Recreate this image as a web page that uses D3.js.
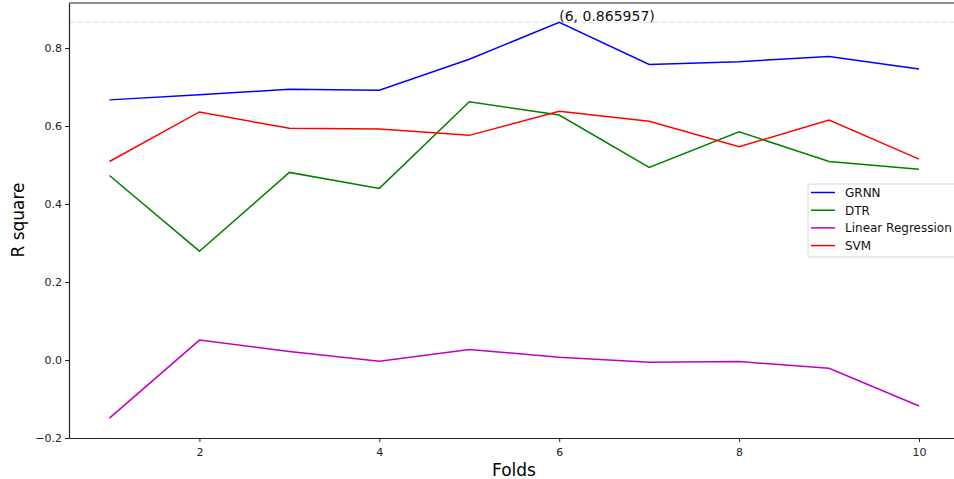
<!DOCTYPE html>
<head>
  <meta charset="utf-8">
  <script src="https://d3js.org/d3.v7.min.js"></script>
  <style>
    body { margin: 0; background: #fff; }
    * { font-family: "DejaVu Sans", sans-serif; }
  </style>
</head>
<body>
  <svg width="954" height="479"></svg>
  <script>
    const folds = [1, 2, 3, 4, 5, 6, 7, 8, 9, 10];
    const grnn = [0.667, 0.680, 0.694, 0.692, 0.771, 0.865957, 0.758, 0.765, 0.778, 0.746];
    const dtr = [0.473, 0.279, 0.481, 0.440, 0.662, 0.628, 0.494, 0.585, 0.509, 0.489];
    const linreg = [-0.149, 0.051, 0.022, -0.003, 0.027, 0.007, -0.006, -0.004, -0.021, -0.118];
    const svm = [0.509, 0.636, 0.594, 0.592, 0.576, 0.638, 0.612, 0.547, 0.615, 0.515];
    const xTicks = [2, 4, 6, 8, 10];
    const yTicks = [-0.2, 0.0, 0.2, 0.4, 0.6, 0.8];
    const series = [
      { name: "GRNN", values: grnn, color: "#0000ff" },
      { name: "DTR", values: dtr, color: "#008000" },
      { name: "Linear Regression", values: linreg, color: "#bf00bf" },
      { name: "SVM", values: svm, color: "#ff0000" }
    ];
    const best = { fold: 6, value: 0.865957 };

    const svg = d3.select("svg");
    const mLeft = 69, mTop = 3, mBottom = 438, mRight = 959.5;

    const x = d3.scaleLinear().domain([0.55, 10.45]).range([mLeft, mRight]);
    const y = d3.scaleLinear().domain([-0.2, 0.9154]).range([mBottom, mTop]);

    // dashed line at max
    svg.append("line")
      .attr("x1", mLeft).attr("x2", mRight)
      .attr("y1", y(best.value)).attr("y2", y(best.value))
      .attr("stroke", "#dde9dd").attr("stroke-width", 1.2)
      .attr("stroke-dasharray", "5,3");

    const line = d3.line().x((d, i) => x(folds[i])).y(d => y(d));
    series.forEach(s => {
      svg.append("path")
        .datum(s.values)
        .attr("d", line)
        .attr("fill", "none")
        .attr("stroke", s.color)
        .attr("stroke-width", 1.5);
    });

    // axes
    const xAxis = svg.append("g")
      .attr("transform", `translate(0,${mBottom})`)
      .call(d3.axisBottom(x).tickValues(xTicks).tickFormat(d3.format("d")).tickSize(4).tickSizeOuter(0));
    const yAxis = svg.append("g")
      .attr("transform", `translate(${mLeft},0)`)
      .call(d3.axisLeft(y).tickValues(yTicks).tickFormat(d => d3.format(".1f")(d).replace("-", "\u2212")).tickSize(4).tickSizeOuter(0));
    [xAxis, yAxis].forEach(a => {
      a.selectAll("text").attr("font-size", 11).attr("fill", "#222");
      a.selectAll("line").attr("stroke", "#222");
      a.select(".domain").attr("stroke", "#222").attr("stroke-width", 1.2);
    });
    xAxis.selectAll("text").attr("dy", "1em");
    yAxis.selectAll("text").attr("x", -7);

    // top spine
    svg.append("line")
      .attr("x1", mLeft).attr("x2", mRight)
      .attr("y1", mTop).attr("y2", mTop)
      .attr("stroke", "#222").attr("stroke-width", 1.2);

    // annotation
    svg.append("text")
      .attr("x", x(best.fold))
      .attr("y", y(best.value) - 1)
      .attr("font-size", 14)
      .attr("fill", "#111")
      .text(`(${best.fold}, ${best.value})`);

    // axis labels
    svg.append("text")
      .attr("x", 514).attr("y", 476)
      .attr("text-anchor", "middle")
      .attr("font-size", 17)
      .text("Folds");
    svg.append("text")
      .attr("transform", "translate(24,220) rotate(-90)")
      .attr("text-anchor", "middle")
      .attr("font-size", 17)
      .text("R square");

    // legend
    const lg = svg.append("g").attr("transform", "translate(808,184)");
    lg.append("rect")
      .attr("x", 0).attr("y", 0)
      .attr("width", 152).attr("height", 73)
      .attr("rx", 2)
      .attr("fill", "#fff").attr("fill-opacity", 0.8)
      .attr("stroke", "#d8d8d8");
    series.forEach((s, i) => {
      const yy = 8.5 + i * 17.7;
      lg.append("line")
        .attr("x1", 3).attr("x2", 27)
        .attr("y1", yy).attr("y2", yy)
        .attr("stroke", s.color).attr("stroke-width", 1.5);
      lg.append("text")
        .attr("x", 37).attr("y", yy + 4.3)
        .attr("font-size", 12)
        .attr("fill", "#111")
        .text(s.name);
    });
  </script>
</body>
